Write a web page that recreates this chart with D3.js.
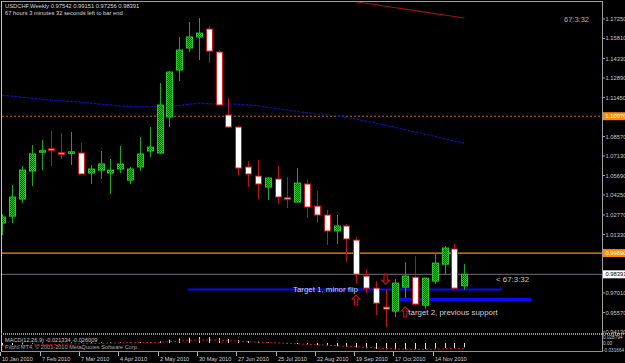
<!DOCTYPE html>
<html><head><meta charset="utf-8">
<script src="https://cdn.jsdelivr.net/npm/d3@7"></script>
<style>
html,body{margin:0;padding:0;background:#000;overflow:hidden}
svg{display:block}
text{font-family:"Liberation Sans",Arial,sans-serif}
</style></head><body>
<svg id="c" width="625" height="363"></svg>
<script>
// ---------- data ----------
const firstWeek = "2010-01-10";
const weekCount = 48;
const opens  = [1.0218,1.0269,1.0395,1.0602,1.0750,1.0766,1.0737,1.0741,1.0735,1.0587,1.0609,1.0587,1.0617,1.0535,1.0632,1.0750,1.0735,1.1001,1.1348,1.1511,1.1592,1.1651,1.1481,1.1016,1.0927,1.0632,1.0565,1.0484,1.0543,1.0405,1.0373,1.0506,1.0343,1.0277,1.0159,1.0196,1.0092,0.9826,0.9737,0.9597,0.9567,0.9744,0.9818,0.9611,0.9789,0.9914,1.0026,0.97542];
const highs  = [1.0284,1.0499,1.0639,1.0794,1.0831,1.0898,1.0883,1.0890,1.0809,1.0646,1.0750,1.0691,1.0787,1.0631,1.0853,1.0927,1.1252,1.1340,1.1592,1.1703,1.1732,1.1673,1.1496,1.1141,1.0935,1.0676,1.0683,1.0558,1.0639,1.0558,1.0624,1.0536,1.0454,1.0314,1.0277,1.0210,1.0114,0.9877,0.9789,0.9730,0.9803,0.9929,0.9973,0.9815,0.9996,1.0048,1.0063,0.99151];
const lows   = [1.0129,1.0218,1.0366,1.0491,1.0609,1.0639,1.0691,1.0646,1.0578,1.0506,1.0543,1.0432,1.0587,1.0506,1.0602,1.0706,1.0730,1.0927,1.1267,1.1481,1.1422,1.1400,1.1085,1.0920,1.0572,1.0484,1.0395,1.0388,1.0358,1.0329,1.0370,1.0255,1.0218,1.0055,1.0063,0.9929,0.9774,0.9700,0.9538,0.9450,0.9524,0.9663,0.9611,0.9582,0.9767,0.9840,0.9730,0.97256];
const closes = [1.0262,1.0410,1.0609,1.0728,1.0752,1.0762,1.0733,1.0744,1.0580,1.0617,1.0654,1.0609,1.0654,1.0617,1.0728,1.0779,1.1090,1.1333,1.1496,1.1592,1.1621,1.1488,1.1090,1.0927,1.0624,1.0580,1.0506,1.0550,1.0410,1.0400,1.0513,1.0336,1.0277,1.0159,1.0196,1.0100,0.9840,0.9737,0.9626,0.9582,0.9774,0.9826,0.9619,0.9811,0.9922,1.0033,0.9737,0.98391];
const maBlue = [1.1162,1.1155,1.1147,1.1140,1.1132,1.1126,1.1121,1.1116,1.1111,1.1104,1.1096,1.1090,1.1082,1.1080,1.1077,1.1075,1.1078,1.1081,1.1086,1.1095,1.1104,1.1100,1.1097,1.1097,1.1095,1.1090,1.1084,1.1072,1.1063,1.1052,1.1041,1.1033,1.1025,1.1017,1.1008,1.0999,1.0985,1.0970,1.0956,1.0940,1.0923,1.0907,1.0891,1.0875,1.0858,1.0840,1.0824,1.0808];
const maRedStart = 34;
const maRed = [1.1874,1.1863,1.1852,1.1841,1.1830,1.1819,1.1808,1.1798,1.1787,1.1776,1.1765,1.1754,1.1743,1.1732];
const macdMain = [-0.012,-0.010,-0.007,-0.004,-0.002,0.000,0.002,0.003,0.003,0.003,0.003,0.003,0.003,0.003,0.004,0.005,0.008,0.016,0.022,0.026,0.0288,0.028,0.024,0.019,0.014,0.010,0.006,0.003,0.000,-0.003,-0.005,-0.008,-0.011,-0.014,-0.016,-0.018,-0.022,-0.026,-0.029,-0.031,-0.0317,-0.031,-0.030,-0.030,-0.027,-0.024,-0.024,-0.021334];
const macdSignal = [-0.014,-0.013,-0.012,-0.011,-0.009,-0.008,-0.006,-0.005,-0.004,-0.003,-0.002,-0.001,0.000,0.001,0.001,0.002,0.003,0.006,0.009,0.012,0.014,0.0145,0.013,0.011,0.009,0.006,0.004,0.002,0.000,-0.002,-0.004,-0.007,-0.009,-0.011,-0.013,-0.016,-0.018,-0.021,-0.024,-0.027,-0.029,-0.030,-0.031,-0.031,-0.030,-0.029,-0.027,-0.026009];
const priceTicks = [1.1725,1.1581,1.1433,1.1289,1.1145,1.0857,1.0713,1.0569,1.0425,1.0277,1.0133,0.9701,0.9557,0.9413];
const priceTickLabels = ["1.17250","1.15810","1.14330","1.12890","1.11450","1.08570","1.07130","1.05690","1.04250","1.02770","1.01330","0.97010","0.95570","0.94130"];
const dateTicks = ["2010-01-10","2010-02-07","2010-03-07","2010-04-04","2010-05-02","2010-05-30","2010-06-27","2010-07-25","2010-08-22","2010-09-19","2010-10-17","2010-11-14"];
const dateTickLabels = ["10 Jan 2010","7 Feb 2010","7 Mar 2010","4 Apr 2010","2 May 2010","30 May 2010","27 Jun 2010","25 Jul 2010","22 Aug 2010","19 Sep 2010","17 Oct 2010","14 Nov 2010"];
const levelDotted = 1.10070, levelDottedLabel = "1.10070";
const levelOrange = 0.99960, levelOrangeLabel = "0.99890";
const bidPrice = 0.98391, bidLabel = "0.98391";
const targetNames = ["Target 1, minor flip","target 2, previous support"];
const targetPrices = [0.9727, 0.9653];
const targetFrom = ["2010-05-22","2010-10-19"];
const targetTo = ["2011-01-01","2011-01-22"];
const targetTextDates = ["2010-08-05","2010-10-24"];
const arrowDates = ["2010-09-19","2010-10-10","2010-10-24"];
const arrowPrices = [0.9649, 0.9803, 0.9561];
const arrowDirs = ["up","down","up"];
const macdMaxLabel = "0.028794", macdZeroLabel = "0.00", macdMinLabel = "-0.031664";
const macdMax = 0.028794, macdMin = -0.031664;

// ---------- scales ----------
const parse = d3.utcParse("%Y-%m-%d");
const t0 = parse(firstWeek);
const weeks = d3.range(weekCount).map(i => d3.utcDay.offset(t0, 7*i));
const candles = weeks.map((d,i)=>({d, o:opens[i], h:highs[i], l:lows[i], c:closes[i], i}));

const x = d3.scaleUtc().domain([weeks[0], weeks[weekCount-1]]).range([2.3, 464.3]);
const y = d3.scaleLinear().domain([0.9413, 1.1725]).range([332, 19]);
const ym = d3.scaleLinear().domain([macdMin, macdMax]).range([349.5, 337]);

const svg = d3.select("#c");
svg.append("rect").attr("width",625).attr("height",363).attr("fill","#000");
const defs = svg.append("defs");
defs.append("clipPath").attr("id","mainClip").append("rect").attr("x",2).attr("y",2).attr("width",600).attr("height",331);
defs.append("clipPath").attr("id","subClip").append("rect").attr("x",2).attr("y",336).attr("width",600).attr("height",15);
const pat = defs.append("pattern").attr("id","dots").attr("width",2).attr("height",2).attr("patternUnits","userSpaceOnUse");
pat.append("rect").attr("width",2).attr("height",2).attr("fill","#0a3a0a");
pat.append("rect").attr("width",1).attr("height",1).attr("fill","#22c022");
pat.append("rect").attr("x",1).attr("y",1).attr("width",1).attr("height",1).attr("fill","#22c022");

const main = svg.append("g").attr("clip-path","url(#mainClip)");

// horizontal levels
main.append("line").attr("x1",2).attr("x2",602).attr("y1",y(levelDotted)).attr("y2",y(levelDotted))
  .attr("stroke","#c86a10").attr("stroke-width",1).attr("stroke-dasharray","2,2");
main.append("line").attr("x1",2).attr("x2",602).attr("y1",y(levelOrange)).attr("y2",y(levelOrange))
  .attr("stroke","#ff8c00").attr("stroke-width",1.3);
main.append("line").attr("x1",2).attr("x2",602).attr("y1",y(bidPrice)).attr("y2",y(bidPrice))
  .attr("stroke","#707078").attr("stroke-width",1);

// moving averages
const lineGen = d3.line().x(d=>d[0]).y(d=>d[1]);
main.append("path").attr("d", lineGen(maBlue.map((v,i)=>[x(weeks[i]), y(v)])))
  .attr("fill","none").attr("stroke","#1010a8").attr("stroke-width",1.2).attr("stroke-dasharray","3,1");
main.append("path").attr("d", lineGen(maRed.map((v,k)=>[x(weeks[maRedStart+k]), y(v)])))
  .attr("fill","none").attr("stroke","#a01010").attr("stroke-width",1.1);

// target lines
const tw = [2, 3];
targetPrices.forEach((p,k)=>{
  main.append("line").attr("x1",x(parse(targetFrom[k]))).attr("x2",x(parse(targetTo[k])))
   .attr("y1",y(p)).attr("y2",y(p)).attr("stroke","#0a0aff").attr("stroke-width",tw[k]);
});

// candles
const bw = 7;
const cg = main.append("g");
cg.selectAll("line.w").data(candles).join("line").attr("class","w")
  .attr("x1",d=>Math.round(x(d.d))+0.5).attr("x2",d=>Math.round(x(d.d))+0.5)
  .attr("y1",d=>y(d.h)).attr("y2",d=>y(d.l))
  .attr("stroke",d=>d.c>=d.o?"#10b010":"#c01010").attr("stroke-width",1);
cg.selectAll("rect.b").data(candles).join("rect").attr("class","b")
  .attr("x",d=>Math.round(x(d.d))-3+0.5)
  .attr("width",bw-1)
  .attr("y",d=>Math.min(y(d.o),y(d.c)))
  .attr("height",d=>Math.max(1.5,Math.abs(y(d.o)-y(d.c))))
  .attr("fill",d=>d.c>=d.o?"url(#dots)":"#ffffff")
  .attr("stroke",d=>d.c>=d.o?"#20d020":"#e01010").attr("stroke-width",1);

// arrows
const upPath = "M0,-5 L4,-1 L1.6,-1 L1.6,5 L-1.6,5 L-1.6,-1 L-4,-1 Z";
arrowDates.forEach((ds,k)=>{
  main.append("path").attr("d",upPath)
   .attr("transform",`translate(${x(parse(ds))},${y(arrowPrices[k])})${arrowDirs[k]==="down"?" rotate(180)":""}`)
   .attr("fill","none").attr("stroke","#d01010").attr("stroke-width",1.1);
});

// annotation texts
main.append("text").attr("x",x(parse(targetTextDates[0]))).attr("y",y(targetPrices[0])+2.8)
  .attr("font-size",7.9).attr("fill","#d0d0e0").text(targetNames[0]);
main.append("text").attr("x",x(parse(targetTextDates[1]))+3).attr("y",y(0.9561)+3)
  .attr("font-size",7.9).attr("fill","#d0d0d0").text(targetNames[1]);
main.append("text").attr("x",496).attr("y",y(bidPrice)+8).attr("font-size",7.9).attr("fill","#c8c8c8").text("< 67:3:32");
main.append("text").attr("x",564).attr("y",22).attr("font-size",7.5).attr("fill","#b0b0b0").text("67:3:32");

// header
svg.append("text").attr("x",5).attr("y",8.3).attr("font-size",5.8).attr("fill","#d8d8d8")
  .text("USDCHF,Weekly  0.97542 0.99151 0.97256 0.98391");
svg.append("text").attr("x",5).attr("y",15).attr("font-size",5.8).attr("fill","#d8d8d8")
  .text("67 hours 3 minutes 32 seconds left to bar end");

// frames
const frame = svg.append("g").attr("fill","none");
frame.append("line").attr("x1",1.5).attr("x2",1.5).attr("y1",1).attr("y2",352).attr("stroke","#c8c8c8");
frame.append("line").attr("x1",1).attr("x2",602.5).attr("y1",1.5).attr("y2",1.5).attr("stroke","#a0a0a0");
frame.append("line").attr("x1",602.5).attr("x2",602.5).attr("y1",1).attr("y2",352).attr("stroke","#a0a0a0");
frame.append("line").attr("x1",1).attr("x2",625).attr("y1",334).attr("y2",334).attr("stroke","#909090").attr("stroke-width",2).attr("stroke-dasharray","1,1");
frame.append("line").attr("x1",1).attr("x2",603).attr("y1",351.5).attr("y2",351.5).attr("stroke","#909090");

// right axis
const ax = svg.append("g");
ax.selectAll("line.tk").data(priceTicks).join("line").attr("class","tk")
  .attr("x1",602).attr("x2",605).attr("y1",d=>y(d)).attr("y2",d=>y(d)).attr("stroke","#a0a0a0");
ax.selectAll("text.tk").data(priceTicks).join("text").attr("class","tk")
  .attr("x",605.5).attr("y",d=>y(d)+2).attr("font-size",5.8).attr("fill","#c8c8c8")
  .text((d,i)=>priceTickLabels[i]);
function boxLabel(p, label, bg, fg){
  ax.append("rect").attr("x",603).attr("y",y(p)-4).attr("width",22).attr("height",8).attr("fill",bg);
  ax.append("text").attr("x",605.5).attr("y",y(p)+2).attr("font-size",5.8).attr("fill",fg).text(label);
}
boxLabel(levelDotted, levelDottedLabel, "#ff8c00", "#ffffff");
boxLabel(levelOrange, levelOrangeLabel, "#ff8c00", "#ffffff");
boxLabel(bidPrice, bidLabel, "#ffffff", "#000000");

// MACD subwindow
const sub = svg.append("g").attr("clip-path","url(#subClip)");
sub.selectAll("line.h").data(macdMain).join("line").attr("class","h")
  .attr("x1",(d,i)=>Math.round(x(weeks[i]))+0.5).attr("x2",(d,i)=>Math.round(x(weeks[i]))+0.5)
  .attr("y1",ym(0)).attr("y2",d=>ym(d)).attr("stroke","#e0e0e0").attr("stroke-width",1);
sub.append("path").attr("d", lineGen(macdSignal.map((v,i)=>[x(weeks[i]), ym(v)])))
  .attr("fill","none").attr("stroke","#e01010").attr("stroke-width",1).attr("stroke-dasharray","2,2");
svg.append("text").attr("x",5).attr("y",342).attr("font-size",5.6).attr("fill","#c8c8c8")
  .text("MACD(12,26,9) -0.021334 -0.026009");
svg.append("text").attr("x",5).attr("y",348.5).attr("font-size",5.6).attr("fill","#a8a8a8")
  .text("Fxpro MT4, © 2001-2010 MetaQuotes Software Corp.");
[[macdMax,macdMaxLabel],[0,macdZeroLabel],[macdMin,macdMinLabel]].forEach(([v,l])=>{
  svg.append("text").attr("x",603).attr("y",ym(v)+2).attr("font-size",4.7).attr("fill","#c8c8c8").text(l);
});

// date axis
const dg = svg.append("g");
const dts = dateTicks.map(parse);
dg.selectAll("line").data(dts).join("line")
  .attr("x1",d=>Math.round(x(d))-2+0.5).attr("x2",d=>Math.round(x(d))-2+0.5)
  .attr("y1",352).attr("y2",356).attr("stroke","#b0b0b0");
dg.selectAll("text").data(dts).join("text")
  .attr("x",d=>Math.round(x(d))).attr("y",361).attr("font-size",5.6).attr("fill","#d0d0d0")
  .text((d,i)=>dateTickLabels[i]);
</script></body></html>
